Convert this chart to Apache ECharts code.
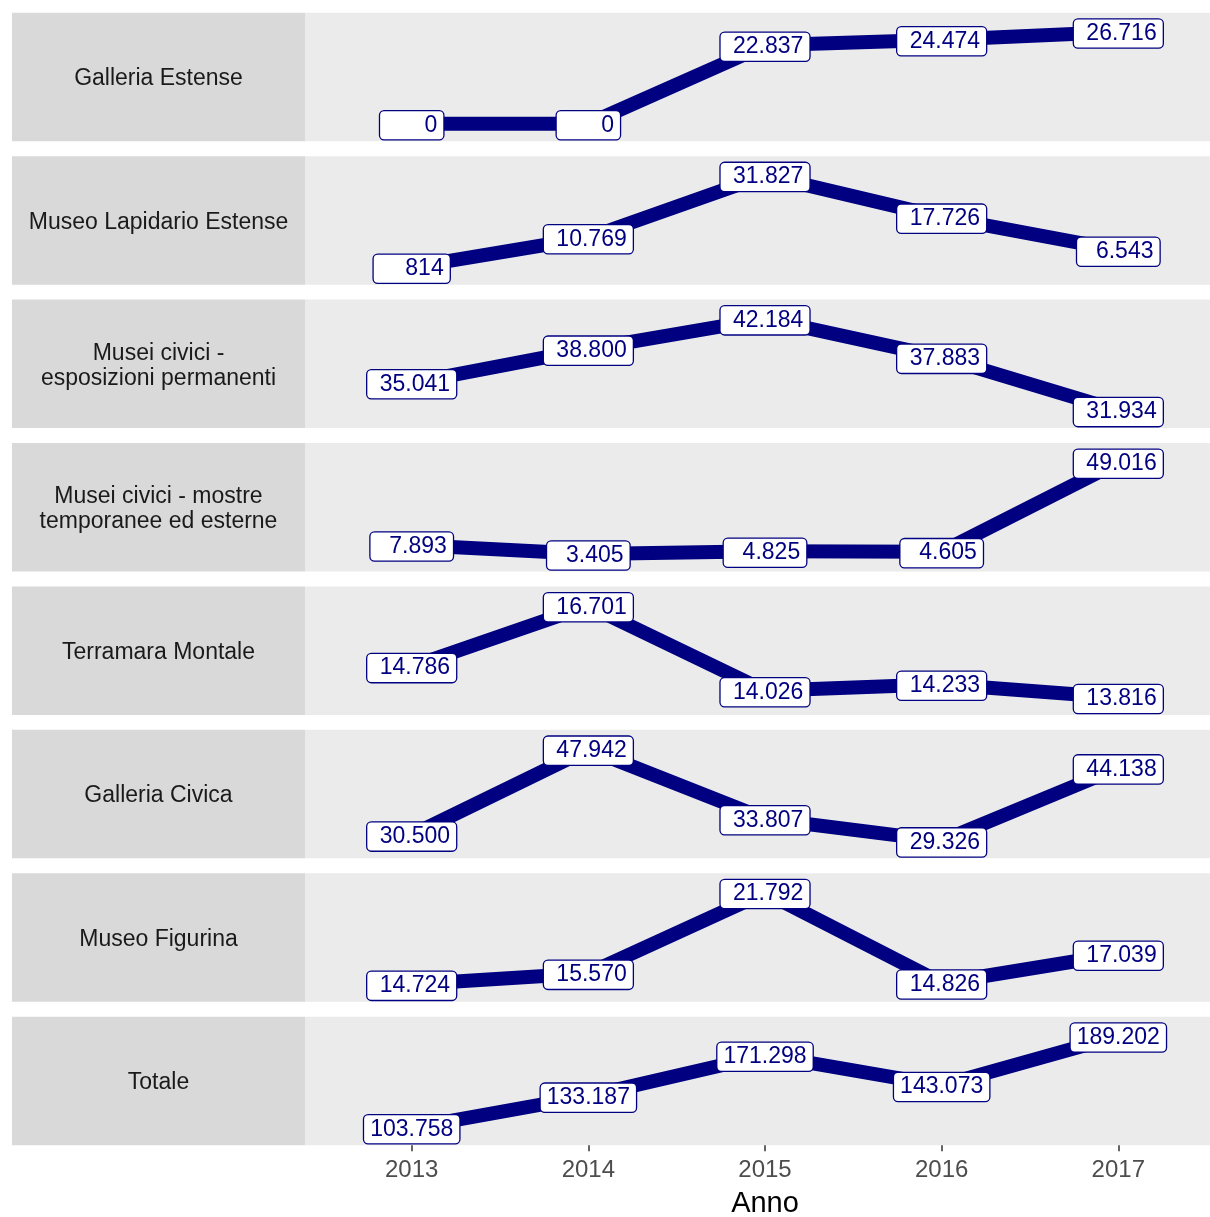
<!DOCTYPE html>
<html>
<head>
<meta charset="utf-8">
<script src="https://cdn.jsdelivr.net/npm/echarts@6/dist/echarts.min.js"></script>
<style>
  html, body { margin: 0; padding: 0; background: #fff; }
  #chart { width: 1210px; height: 1217px; }
</style>
</head>
<body>
<div id="chart"></div>
<script>
// ---- DATA ----
const years = [2013, 2014, 2015, 2016, 2017];
const museums = [
  "Galleria Estense",
  "Museo Lapidario Estense",
  "Musei civici -\nesposizioni permanenti",
  "Musei civici - mostre\ntemporanee ed esterne",
  "Terramara Montale",
  "Galleria Civica",
  "Museo Figurina",
  "Totale"
];
const galleriaEstense   = [0, 0, 22837, 24474, 26716];
const lapidarioEstense  = [814, 10769, 31827, 17726, 6543];
const civiciPermanenti  = [35041, 38800, 42184, 37883, 31934];
const civiciTemporanee  = [7893, 3405, 4825, 4605, 49016];
const terramaraMontale  = [14786, 16701, 14026, 14233, 13816];
const galleriaCivica    = [30500, 47942, 33807, 29326, 44138];
const museoFigurina     = [14724, 15570, 21792, 14826, 17039];
const totale            = [103758, 133187, 171298, 143073, 189202];
const seriesValues = [galleriaEstense, lapidarioEstense, civiciPermanenti, civiciTemporanee,
                      terramaraMontale, galleriaCivica, museoFigurina, totale];
const xAxisTitle = "Anno";

// ---- LAYOUT ----
const FONT = "'Liberation Sans', Arial, sans-serif";
const NAVY = "#000080";
const panelLeft = 305, stripLeft = 12;
const firstTop = 12.7, step = 143.43, panelH = 128.5;

function fmt(v) {
  const s = String(v).replace(/\B(?=(\d{3})+(?!\d))/g, ".");
  return s.padStart(7, " ");
}

const grids = [], xAxes = [], yAxes = [], series = [], graphics = [];
seriesValues.forEach((vals, i) => {
  const top = firstTop + i * step;
  const last = i === seriesValues.length - 1;
  grids.push({
    left: panelLeft, right: 0, top: top, height: panelH,
    show: true, backgroundColor: "#EBEBEB", borderWidth: 0, containLabel: false
  });
  xAxes.push({
    type: "value", gridIndex: i, min: 2012.396, max: 2017.519,
    splitLine: { show: false },
    axisLine: { show: false },
    axisTick: { show: last, customValues: years, length: 6, lineStyle: { color: "#333", width: 1.5 } },
    axisLabel: { show: last, customValues: years, formatter: v => String(v),
                 color: "#4D4D4D", fontSize: 24, fontFamily: FONT, margin: 13 }
  });
  const dmin = Math.min(...vals), dmax = Math.max(...vals), r = dmax - dmin;
  yAxes.push({
    type: "value", gridIndex: i, show: false,
    min: dmin - 0.19 * r, max: dmax + 0.21 * r,
    splitLine: { show: false }
  });
  series.push({
    type: "line", xAxisIndex: i, yAxisIndex: i,
    data: years.map((y, k) => [y, vals[k]]),
    lineStyle: { color: NAVY, width: 14, join: "round" },
    itemStyle: { color: NAVY },
    symbol: "circle", symbolSize: 1, showSymbol: true,
    animation: false,
    label: {
      show: true, position: "inside", offset: [0, 1.5],
      formatter: p => fmt(p.value[1]),
      color: NAVY, fontSize: 23, fontFamily: FONT,
      backgroundColor: "#fff", borderColor: NAVY, borderWidth: 1.3, borderRadius: 4,
      padding: [3, 6, 1, 6], lineHeight: 24
    },
    emphasis: { disabled: true }
  });
  graphics.push({
    type: "rect", shape: { x: stripLeft, y: top, width: panelLeft - stripLeft, height: panelH },
    style: { fill: "#D9D9D9" }, silent: true
  });
  graphics.push({
    type: "text", x: (stripLeft + panelLeft) / 2, y: top + panelH / 2 + 2,
    style: { text: museums[i], fill: "#1A1A1A", font: "23px " + FONT,
             align: "center", verticalAlign: "middle", lineHeight: 25 },
    silent: true
  });
});
graphics.push({
  type: "text", x: 765, y: 1204,
  style: { text: xAxisTitle, fill: "#000", font: "29px " + FONT, align: "center", verticalAlign: "middle" },
  silent: true
});

const chart = echarts.init(document.getElementById("chart"), null, { renderer: "canvas" });
chart.setOption({
  animation: false,
  backgroundColor: "#fff",
  grid: grids, xAxis: xAxes, yAxis: yAxes, series: series,
  graphic: { elements: graphics }
});
</script>
</body>
</html>
